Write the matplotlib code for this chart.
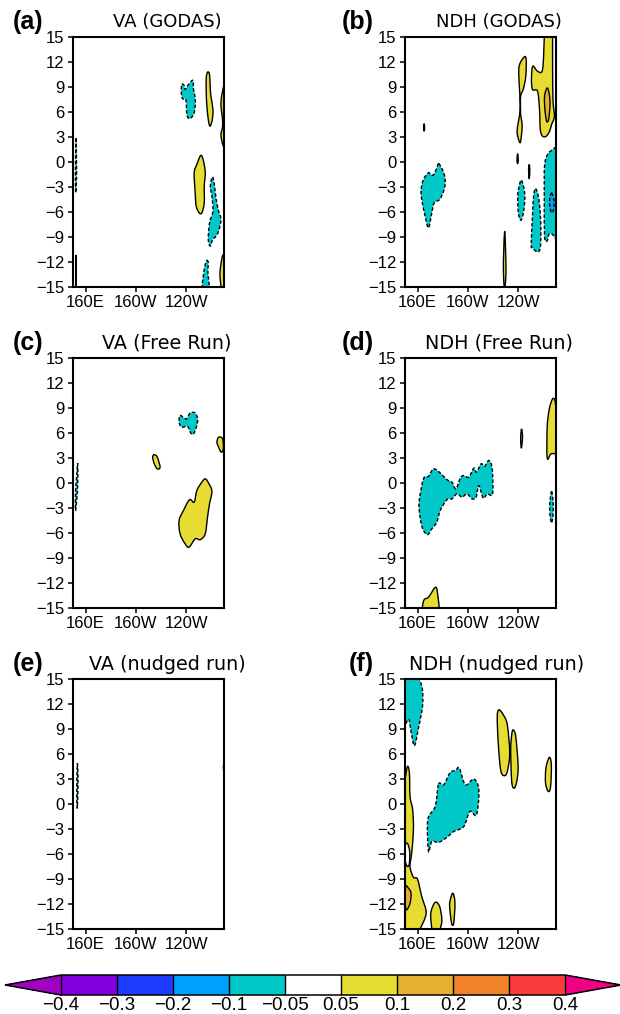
import matplotlib
matplotlib.use('Agg')
import matplotlib.pyplot as plt
from matplotlib.colors import BoundaryNorm, ListedColormap
from matplotlib.cm import ScalarMappable
from matplotlib.patches import PathPatch
from matplotlib.path import Path

plt.rcParams['font.family'] = ['Liberation Sans', 'DejaVu Sans']

W, H = 620, 1014

# Contour regions as (lon, lat); lon runs 150..270 (270 = 90W).
# A corner on the frame is written twice so that it stays sharp.
va_godas_pos = [
    [(257, 10.8), (258.5, 10.5), (259, 9.1), (259.6, 7.9), (261.2, 6.3), (260.7, 5.1), (259, 4.3), (257.7, 4.9),
     (256.4, 6.7), (255.9, 8.3), (255.9, 10.1)],
    [(270, 9.3), (270, 9.3), (268.1, 7.9), (267.6, 6.7), (268.6, 5.5), (268.9, 4.3), (267.6, 3.3), (268.6, 2.3), (270, 1.7), (270, 1.7)],
    [(251.6, 0.8), (253.7, 0.1), (255.1, -1.3), (254.3, -2.9), (254.3, -4.9), (252.4, -6.1), (250.3, -6.1),
     (247.9, -5.3), (247.1, -3.7), (246.3, -1.3), (248.4, -0.3)],
    [(268.6, -11.4), (270, -11.5), (270, -15), (270, -15), (267.6, -15), (267.6, -15), (266.8, -13.3)],
    [(152.2, -15), (152.2, -15), (152.4, -11.2), (152.6, -15), (152.6, -15)],
]
va_godas_neg = [
    [(236.5, 9.3), (238.3, 9.2), (239.1, 8.7), (241.8, 9.3), (245.3, 9.8), (245.8, 8.7), (247.1, 7.7), (247.1, 6.7),
     (245.8, 5.7), (242.6, 5.2), (240.5, 5.7), (239.7, 7.5), (237, 7.6), (236, 8.5)],
    [(260.9, -1.8), (262.5, -2.9), (263.8, -4.5), (265.7, -5.9), (267.6, -6.9), (265.7, -8.3), (263.1, -9), (260.9, -9.3),
     (259.1, -10.1), (257.5, -9.3), (258.5, -7.3), (261.2, -5.9), (260.4, -4.1), (259.1, -2.9)],
    [(256.4, -11.8), (257.5, -12.1), (257.2, -13.3), (258.5, -15), (258.5, -15), (252.4, -15), (252.4, -15), (253.7, -13.5), (255.1, -12.3)],
    [(152.4, 2.9), (152.8, 0), (152.8, -2), (152.2, -3.7), (151.9, -2), (152, 0)],
]
ndh_godas_pos = [
    [(244.7, 12.6), (246.3, 12.3), (246, 10.3), (244.1, 8.8), (241.9, 7.9), (241.8, 6.3), (242, 5.6), (243.1, 4.3), (241.9, 2.5),
     (240.7, 2.5), (239.1, 3.7), (241, 5.6), (241.5, 6.3), (241.5, 7.5), (240.7, 9.5), (240.7, 11.5)],
    [(260.7, 15), (260.7, 15), (267.3, 15), (267.3, 15), (267.3, 11.9), (267.6, 7.5), (268.7, 5.5), (266.5, 4.5), (264.9, 3.7),
     (262.3, 3.1), (259.3, 3.1), (257.5, 3.9), (256.9, 6.3), (255.3, 8.5), (251.3, 8.7), (250.5, 10.1), (251.6, 11.5),
     (255.3, 10.9), (259.3, 11.1)],
    [(165.2, 4.6), (165.6, 4.1), (165.2, 3.7), (164.8, 4.1)],
    [(239.5, 1), (240, 0.2), (239.5, -0.2), (239, 0.2)],
    [(248.7, -0.3), (249.2, -1), (248.7, -2), (248.2, -1)],
    [(229.2, -8.3), (230, -11), (230.2, -13.5), (229.4, -15), (228.8, -15), (228.2, -13), (228.4, -11)],
]
ndh_godas_neg = [
    [(176.7, -0.2), (179.3, -0.8), (181.2, -1.5), (182, -2.5), (180.7, -3.5), (177.5, -4.5), (173.2, -4.9), (171.3, -6.1),
     (168.7, -7.9), (166, -6.5), (163.3, -4.5), (162.8, -3.3), (164.7, -2.1), (168.7, -1.3), (172.1, -1.6), (174.8, -0.9)],
    [(242.5, -2.2), (244.7, -3.3), (245.2, -4.5), (244.1, -6.1), (242, -7), (240.1, -6.1), (239.6, -4.1), (240.7, -2.9)],
    [(253.7, -3.2), (255.9, -4.1), (257.5, -6.1), (258, -8.5), (257.5, -10.3), (255.3, -10.8), (251.3, -10.3),
     (250.3, -9.9), (251.3, -6.5), (252.2, -4.1)],
    [(270, 1.8), (270, 1.8), (270, -9.3), (270, -9.3), (267.3, -8.7), (264.7, -8.6), (262.8, -9.5), (260.9, -8.9), (260.7, -4.5),
     (260.9, -0.5), (263.3, 0.9), (267.3, 1.5)],
]
ndh_godas_orange = [[(263.1, 8.9), (264.9, 7.9), (265.2, 6.7), (264.1, 5.1), (262.5, 4.9), (261.2, 6.3), (260.9, 7.9)]]
ndh_godas_blue = [[(266.5, -3.7), (268, -4.3), (268.5, -5), (267.9, -5.8), (266.5, -6.1), (265.3, -5.5), (264.9, -4.8), (265.3, -4.2)]]

va_free_pos = [
    [(265.7, 5.5), (268.9, 5.3), (269.4, 4.1), (267.8, 3.7), (265.7, 4.3), (264.4, 4.9)],
    [(214.6, 3.4), (217, 3.1), (219.2, 1.9), (217, 1.7), (214.6, 2.3), (213.3, 3.1)],
    [(255.1, 0.5), (257.7, 0), (260.4, -1), (258.5, -2.5), (256.9, -4.1), (255.1, -6.1), (251.1, -6.8), (247.1, -6.7),
     (242.3, -7.7), (239.1, -7.3), (235.1, -6.1), (234.3, -4.5), (237.8, -3.3), (242.6, -2), (246.3, -2.3), (248.4, -0.9), (252.4, 0.1)],
]
va_free_neg = [
    [(235.1, 8.1), (238.3, 7.8), (240.4, 7.7), (243.1, 8.4), (247.1, 8.4), (249, 7.7), (248.4, 6.9), (245.8, 5.9),
     (243.6, 6), (241, 6.8), (236.5, 6.7), (234.3, 7.3)],
    [(153.7, 2.4), (153.8, 0), (153, -2), (152, -3.3), (152, -1), (153, 1)],
]
ndh_free_pos = [
    [(267.3, 10.1), (269.2, 9.9), (270, 8.7), (270, 8.7), (270, 3.5), (270, 3.5), (266, 3.5), (263, 3), (263, 6.7), (264.7, 8.9)],
    [(242.6, 6.5), (243.4, 5.5), (242.5, 4.2), (241.9, 5.3)],
    [(174.3, -12.5), (176.1, -13.5), (177.2, -15), (177.2, -15), (163.6, -15), (163.6, -15), (165.2, -14), (168.7, -13.7)],
]
ndh_free_neg = [
    [(172.7, 1.7), (178, 1.2), (183.3, 0.4), (187.3, 0.1), (190.5, -0.7), (194, 0.6), (196.7, 0.9), (200.7, 0.7),
     (204.7, 1.8), (206.8, 1.3), (210.5, 2.3), (213.2, 2), (216.7, 2.7), (219.3, 1.7), (219.6, -1.3), (215.3, -1.3),
     (212.1, -1.8), (208.7, -0.3), (206.5, -1.7), (203.3, -1.9), (199.3, -1.3), (195.3, -1.7), (191.3, -1.3), (187.3, -1.9),
     (183.3, -2), (178, -3.3), (175.3, -4.7), (171.3, -5.5), (167.9, -6.2), (164.1, -5.5), (162, -4.1), (161.2, -2.3),
     (164.7, 0.5), (168.7, 0.8)],
    [(266.5, -1), (267.8, -2.5), (267.5, -4), (266.5, -4.8), (265.3, -4), (265, -2.5)],
]
va_nudged_pos = [[(270, 4.9), (269.5, 4.4), (270, 3.9)]]
va_nudged_neg = [[(153.5, 4.9), (154, 3), (153.8, 1), (153.3, -0.5), (153, 1), (153.1, 3)]]
ndh_nudged_pos = [
    [(151.9, 4.5), (153.5, 3.7), (154, 0.9), (156.1, -0.7), (156.7, -3.1), (155.3, -5.9), (154, -7.5), (156.7, -8.8),
     (159.9, -9), (163.3, -11.1), (166.8, -13.1), (162, -15), (162, -15), (150, -15), (150, -15), (150, 2.9), (150, 2.9)],
    [(224.7, 11.3), (228.1, 10.7), (231.3, 9.5), (233.2, 6.1), (231.3, 3.9), (228.7, 3.4), (226, 4.1), (224.1, 7.3), (223.3, 10.5)],
    [(235.9, 8.9), (238, 8.1), (239.9, 4.5), (238.8, 2.7), (236.7, 1.9), (234.8, 2.7), (234, 6.5), (234.8, 8.3)],
    [(264.7, 5.6), (266.3, 4.7), (265.7, 2.1), (263.9, 1.5), (261.7, 2.5), (262, 4.3)],
    [(174, -11.8), (177.5, -12.3), (179.3, -13.9), (178, -15), (178, -15), (171.3, -15), (171.3, -15), (170.5, -13.1)],
    [(188.1, -10.7), (189.7, -11.9), (188.7, -14.3), (187, -14.3), (185.5, -12.3), (186, -11.5)],
]
ndh_nudged_neg = [
    [(150, 15), (150, 15), (150, 9.3), (150, 9.3), (152.9, 10.2), (154.8, 8.7), (157.5, 7), (160.7, 9.1), (163.9, 11.7), (163.9, 13.7), (161.5, 15), (161.5, 15)],
    [(176.7, 2.4), (180.7, 2.3), (186, 3.8), (190, 4), (193.2, 4.3), (198, 2.3), (204.7, 3), (208.7, 1.7), (206.8, -1.3),
     (201.5, -0.9), (196.7, -2.7), (188.7, -3.3), (183.3, -4), (176.7, -4.6), (171.3, -4.5), (168.7, -5.7), (168.1, -1.9), (174, -0.3)],
]
ndh_nudged_hole = [[(151.9, -4.7), (153.7, -5.7), (153.5, -7.1), (151.9, -7.5), (150, -6.7), (150, -5.1)]]
ndh_nudged_orange = [[(150.5, -9.9), (152.7, -10.1), (154.8, -10.7), (154, -11.9), (151.3, -12.7), (150, -11.9)]]

yticks = [-15, -12, -9, -6, -3, 0, 3, 6, 9, 12, 15]
xticks = [160, 200, 240]
xticklabels = ['160E', '160W', '120W']
levels = [-0.4, -0.3, -0.2, -0.1, -0.05, 0.05, 0.1, 0.2, 0.3, 0.4]
level_labels = ['\u22120.4', '\u22120.3', '\u22120.2', '\u22120.1', '\u22120.05', '0.05', '0.1', '0.2', '0.3', '0.4']
level_colors = ['#8200dc', '#1e3cff', '#00a0ff', '#00c8c8', '#ffffff', '#e6dc32', '#e6af2d', '#f08228', '#fa3c3c']
under_color = '#a000c0'
over_color = '#f00082'
YELLOW = '#e6dc32'
CYAN = '#00c8c8'
ORANGE = '#e6af2d'
BLUE = '#00a0ff'


def px_axes(x0, y0, x1, y1):
    return fig.add_axes([x0 / W, 1 - y1 / H, (x1 - x0) / W, (y1 - y0) / H])


def blob(ax, pts, color, ls='-'):
    # closed bezier that goes through every traced vertex
    n = len(pts)
    verts = [pts[0]]
    codes = [Path.MOVETO]
    for i in range(n):
        p0, p1, p2, p3 = pts[i - 1], pts[i], pts[(i + 1) % n], pts[(i + 2) % n]
        verts.append((p1[0] + (p2[0] - p0[0]) / 6, p1[1] + (p2[1] - p0[1]) / 6))
        verts.append((p2[0] - (p3[0] - p1[0]) / 6, p2[1] - (p3[1] - p1[1]) / 6))
        verts.append(p2)
        codes += [Path.CURVE4] * 3
    ax.add_patch(PathPatch(Path(verts, codes), facecolor=color, edgecolor='black',
                           linewidth=1.0, linestyle=ls, joinstyle='round'))


fig = plt.figure(figsize=(W / 100, H / 100), dpi=100)

panels = [
    ('(a)', 'VA (GODAS)', 13, 167, 13, 73, 37, va_godas_pos, va_godas_neg, [], [], []),
    ('(b)', 'NDH (GODAS)', 13, 499, 342, 405, 37, ndh_godas_pos, ndh_godas_neg, ndh_godas_orange, ndh_godas_blue, []),
    ('(c)', 'VA (Free Run)', 13.8, 167, 13, 73, 358, va_free_pos, va_free_neg, [], [], []),
    ('(d)', 'NDH (Free Run)', 13.8, 499, 342, 405, 358, ndh_free_pos, ndh_free_neg, [], [], []),
    ('(e)', 'VA (nudged run)', 13.8, 167, 13, 73, 679, va_nudged_pos, va_nudged_neg, [], [], []),
    ('(f)', 'NDH (nudged run)', 13.8, 497, 349, 405, 679, ndh_nudged_pos, ndh_nudged_neg, ndh_nudged_orange, [], ndh_nudged_hole),
]

for tag, title, tsize, tx, lx, x0, y0, pos, neg, orange, blue, holes in panels:
    ax = px_axes(x0, y0, x0 + 151, y0 + 250)
    for p in pos:
        blob(ax, p, YELLOW)
    for p in neg:
        blob(ax, p, CYAN, (0, (2.5, 1.5)))
    for p in orange:
        blob(ax, p, ORANGE)
    for p in blue:
        blob(ax, p, BLUE, (0, (2.5, 1.5)))
    for p in holes:
        blob(ax, p, 'white')
    ax.set_xlim(150, 270)
    ax.set_ylim(-15, 15)
    ax.set_yticks(yticks)
    ax.set_yticklabels([str(v).replace('-', '\u2212') for v in yticks])
    ax.set_xticks(xticks)
    ax.set_xticklabels(xticklabels)
    ax.tick_params(labelsize=12, length=3.6, width=1.1, pad=2.5)
    for s in ax.spines.values():
        s.set_linewidth(1.5)
    fig.text(tx / W, 1 - (y0 - 15) / H, title, fontsize=tsize, family='DejaVu Sans', ha='center', va='center')
    fig.text(lx / W, 1 - (y0 - 15) / H, tag, fontsize=18, fontweight='bold', ha='left', va='center')

# the two arrows take up 56 px each of this axes
cax = px_axes(5, 975, 621, 995)
cmap = ListedColormap(level_colors).with_extremes(under=under_color, over=over_color)
norm = BoundaryNorm(levels, cmap.N)
cb = fig.colorbar(ScalarMappable(norm=norm, cmap=cmap), cax=cax, orientation='horizontal', extend='both',
                  extendfrac=0.111, spacing='uniform', drawedges=True, ticks=levels)
cb.ax.set_xticklabels(level_labels)
cb.ax.tick_params(labelsize=13.5, length=0, pad=1.5)
cb.outline.set_linewidth(1.1)
cb.dividers.set_linewidth(1.0)

fig.savefig('out.png', dpi=100)
